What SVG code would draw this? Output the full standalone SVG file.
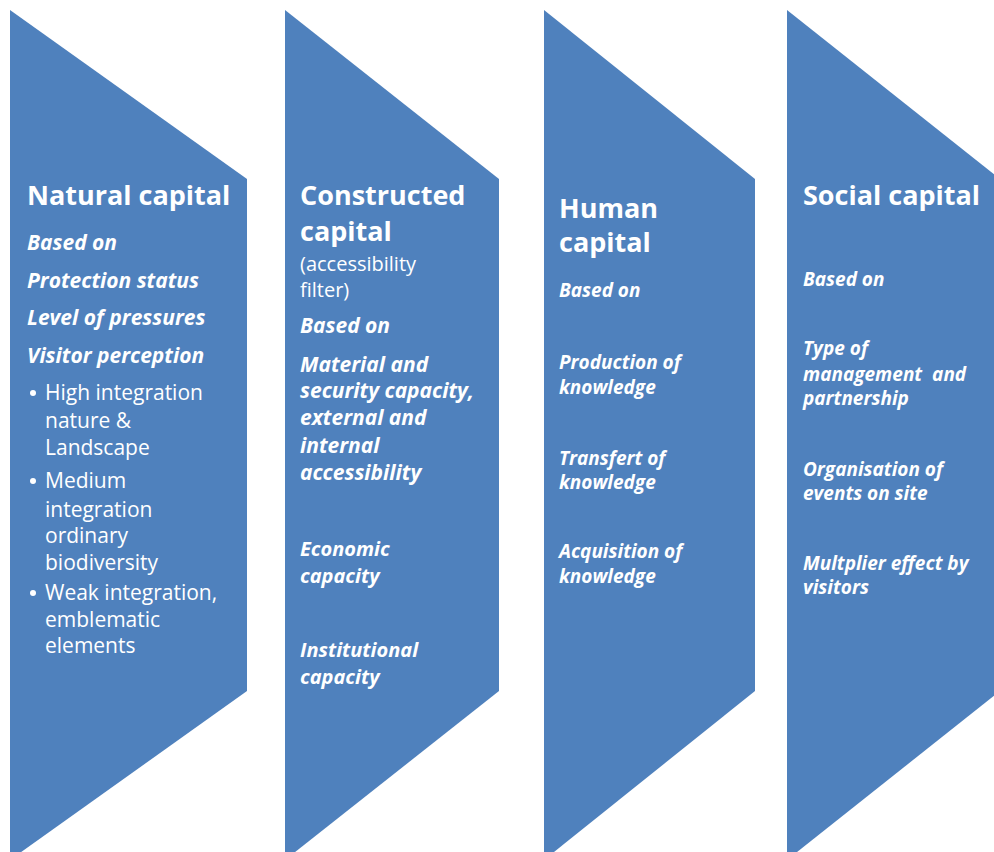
<svg xmlns="http://www.w3.org/2000/svg" width="994" height="852" viewBox="0 0 994 852">
<style>
.shape{fill:#4F81BD}
text{font-family:"Open Sans","Liberation Sans",sans-serif;fill:#ffffff}
.h{font-size:27px;font-weight:bold}
.bi{font-size:21px;font-weight:bold;font-style:italic}
.bc{font-size:20px;font-weight:bold;font-style:italic}
.bs{font-size:19px;font-weight:bold;font-style:italic}
.r{font-size:21px}
.rs{font-size:20px}
.dot{fill:#ffffff}
</style>
<rect width="994" height="852" fill="#ffffff"/>
<g id="natural">
<polygon class="shape" points="10,10 247,179 247,691 10,860"/>
<text class="h" x="27" y="205">Natural capital</text>
<text class="bi" x="27" y="250">Based on</text>
<text class="bi" x="27" y="288">Protection status</text>
<text class="bi" x="27" y="325">Level of pressures</text>
<text class="bi" x="27" y="363">Visitor perception</text>
<circle class="dot" cx="33" cy="393" r="3"/>
<text class="r" x="45" y="400">High integration</text>
<text class="r" x="45" y="428">nature &amp;</text>
<text class="r" x="45" y="455">Landscape</text>
<circle class="dot" cx="33" cy="481" r="3"/>
<text class="r" x="45" y="488">Medium</text>
<text class="r" x="45" y="517">integration</text>
<text class="r" x="45" y="543">ordinary</text>
<text class="r" x="45" y="570">biodiversity</text>
<circle class="dot" cx="33" cy="593" r="3"/>
<text class="r" x="45" y="600">Weak integration,</text>
<text class="r" x="45" y="627">emblematic</text>
<text class="r" x="45" y="653">elements</text>
</g>
<g id="constructed">
<polygon class="shape" points="285,10 499,179 499,691 285,860"/>
<text class="h" x="300" y="205">Constructed</text>
<text class="h" x="300" y="241">capital</text>
<text class="rs" x="300" y="271">(accessibility</text>
<text class="rs" x="300" y="297">filter)</text>
<text class="bi" x="300" y="333">Based on</text>
<text class="bi" x="300" y="372">Material and</text>
<text class="bi" x="300" y="398">security capacity,</text>
<text class="bi" x="300" y="425">external and</text>
<text class="bi" x="300" y="453">internal</text>
<text class="bi" x="300" y="480">accessibility</text>
<text class="bc" x="300" y="556">Economic</text>
<text class="bc" x="300" y="583">capacity</text>
<text class="bc" x="300" y="657">Institutional</text>
<text class="bc" x="300" y="684">capacity</text>
</g>
<g id="human">
<polygon class="shape" points="544,10 755,179 755,691 544,860"/>
<text class="h" x="559" y="218">Human</text>
<text class="h" x="559" y="252">capital</text>
<text class="bs" x="559" y="297">Based on</text>
<text class="bs" x="559" y="369">Production of</text>
<text class="bs" x="559" y="394">knowledge</text>
<text class="bs" x="559" y="465">Transfert of</text>
<text class="bs" x="559" y="489">knowledge</text>
<text class="bs" x="559" y="558">Acquisition of</text>
<text class="bs" x="559" y="583">knowledge</text>
</g>
<g id="social">
<polygon class="shape" points="787,10 1000,179 1000,691 787,860"/>
<text class="h" x="803" y="205">Social capital</text>
<text class="bs" x="803" y="286">Based on</text>
<text class="bs" x="803" y="355">Type of</text>
<text class="bs" x="803" y="381" word-spacing="5">management and</text>
<text class="bs" x="803" y="405">partnership</text>
<text class="bs" x="803" y="476">Organisation of</text>
<text class="bs" x="803" y="500">events on site</text>
<text class="bs" x="803" y="570">Multplier effect by</text>
<text class="bs" x="803" y="594">visitors</text>
</g>
<g id="connectors"/>
</svg>
